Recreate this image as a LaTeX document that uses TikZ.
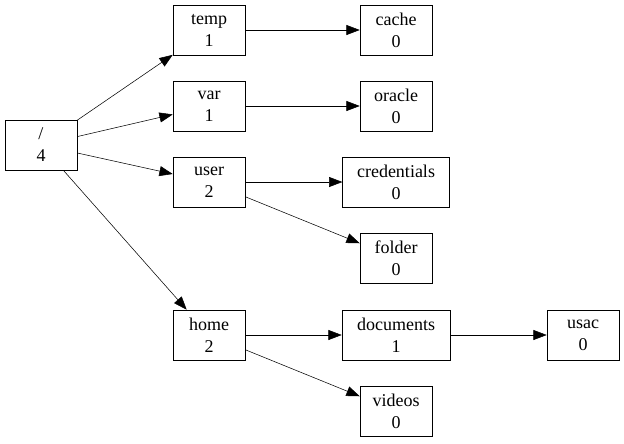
\documentclass[tikz,border=0pt]{standalone}
\usepackage{fontspec}
\setmainfont{Liberation Serif}
\usetikzlibrary{arrows.meta}

\tikzset{
    dirbox/.style={draw, align=center, minimum width=54pt, minimum height=37.5pt, inner sep=2pt, font=\fontsize{13.5}{16.5}\selectfont},
    edge/.style={-{Triangle[length=10pt,width=7.5pt]}}
}

\begin{document}
\begin{tikzpicture}[x=0.75pt, y=-0.75pt]
    \useasboundingbox (0,0) rectangle (624,443);
    % first level
    \node[dirbox] (root) at (41,145) {/\\4};
    \node[dirbox] (temp) at (209,30) {temp\\1};
    \node[dirbox] (var) at (209,106) {var\\1};
    \node[dirbox] (user) at (209,182) {user\\2};
    \node[dirbox] (home) at (209,335) {home\\2};
    % second level
    \node[dirbox] (cache) at (396,30) {cache\\0};
    \node[dirbox] (oracle) at (396,106) {oracle\\0};
    \node[dirbox, minimum width=80pt] (credentials) at (396,182) {credentials\\0};
    \node[dirbox] (folder) at (396,258) {folder\\0};
    \node[dirbox, minimum width=81pt] (documents) at (396,335) {documents\\1};
    \node[dirbox] (videos) at (396,411) {videos\\0};
    \node[dirbox] (usac) at (583,335) {usac\\0};
    % edges
    \draw[edge] (root) -- (temp);
    \draw[edge] (root) -- (var);
    \draw[edge] (root) -- (user);
    \draw[edge] (root) -- (home);
    \draw[edge] (temp) -- (cache);
    \draw[edge] (var) -- (oracle);
    \draw[edge] (user) -- (credentials);
    \draw[edge] (user) -- (folder);
    \draw[edge] (home) -- (documents);
    \draw[edge] (home) -- (videos);
    \draw[edge] (documents) -- (usac);
\end{tikzpicture}
\end{document}
